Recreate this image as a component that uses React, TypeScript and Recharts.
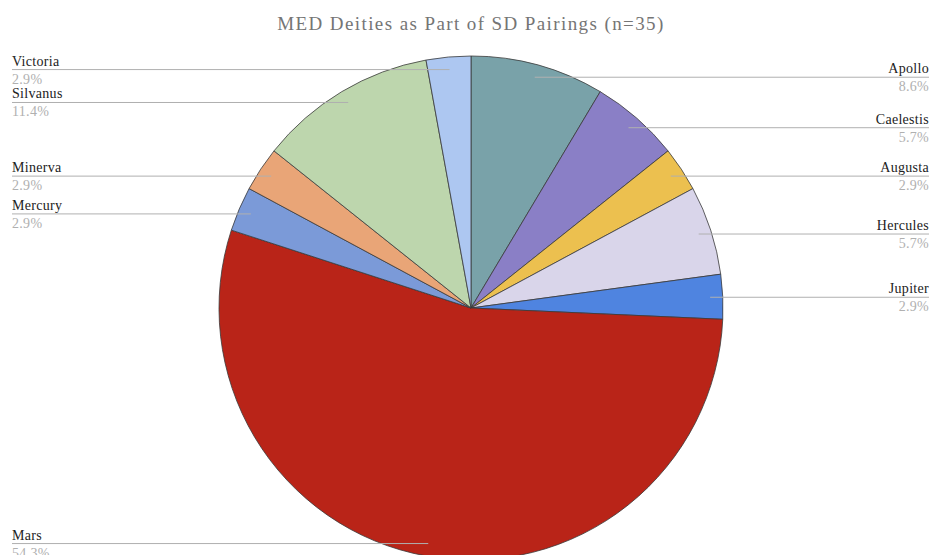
import React from "react";
import { PieChart, Pie, Cell } from "recharts";

// Deity counts (n = 35), listed clockwise from 12 o'clock
const deities = ["Apollo", "Caelestis", "Augusta", "Hercules", "Jupiter", "Mars", "Mercury", "Minerva", "Silvanus", "Victoria"];
const counts = [3, 2, 1, 2, 1, 19, 1, 1, 4, 1];
const sliceColors = ["#79a2a9", "#8a7fc6", "#ecc04f", "#d9d5ea", "#4f84e0", "#b92418", "#7b9ad8", "#e9a577", "#bdd6ad", "#adc7f1"];
const title = "MED Deities as Part of SD Pairings (n=35)";

const data = deities.map((name, i) => ({ name, value: counts[i] }));

const W = 931;
const H = 555;
const RAD = Math.PI / 180;
const SERIF = "Liberation Serif";

// Label drawn as a horizontal leader from inside the slice to the chart edge,
// with the deity name above the line and its share below.
const SideLabel = (props: any) => {
  const { cx, cy, midAngle, outerRadius, percent, name } = props;
  const r = outerRadius * 0.95;
  const ax = cx + r * Math.cos(-midAngle * RAD);
  const ay = cy + r * Math.sin(-midAngle * RAD);
  const left = ax < cx;
  const edge = left ? 12 : 929;
  const anchor = left ? "start" : "end";
  return (
    <g>
      <line x1={ax} y1={ay} x2={edge} y2={ay} stroke="#b0b0b0" strokeWidth={1} />
      <text x={edge} y={ay - 4} textAnchor={anchor} fontFamily={SERIF} fontSize={14} letterSpacing={0.3} fill="#222">
        {name}
      </text>
      <text x={edge} y={ay + 14} textAnchor={anchor} fontFamily={SERIF} fontSize={14} letterSpacing={0.3} fill="#b0b0b0">
        {(percent * 100).toFixed(1)}%
      </text>
    </g>
  );
};

export default function App() {
  return (
    <div style={{ position: "absolute", left: 0, top: 0, width: W, height: H, background: "#fff" }}>
      <PieChart width={W} height={H} margin={{ top: 0, right: 0, bottom: 0, left: 0 }}>
        <text x={471} y={30} textAnchor="middle" fontFamily={SERIF} fontSize={19} letterSpacing={1.4} fill="#757575">
          {title}
        </text>
        <Pie
          data={data}
          dataKey="value"
          nameKey="name"
          cx={471}
          cy={308}
          outerRadius={252}
          startAngle={90}
          endAngle={-270}
          stroke="#3a3a3a"
          strokeWidth={0.8}
          label={SideLabel}
          labelLine={false}
          isAnimationActive={false}
        >
          {data.map((d, i) => (
            <Cell key={d.name} fill={sliceColors[i]} />
          ))}
        </Pie>
      </PieChart>
    </div>
  );
}
